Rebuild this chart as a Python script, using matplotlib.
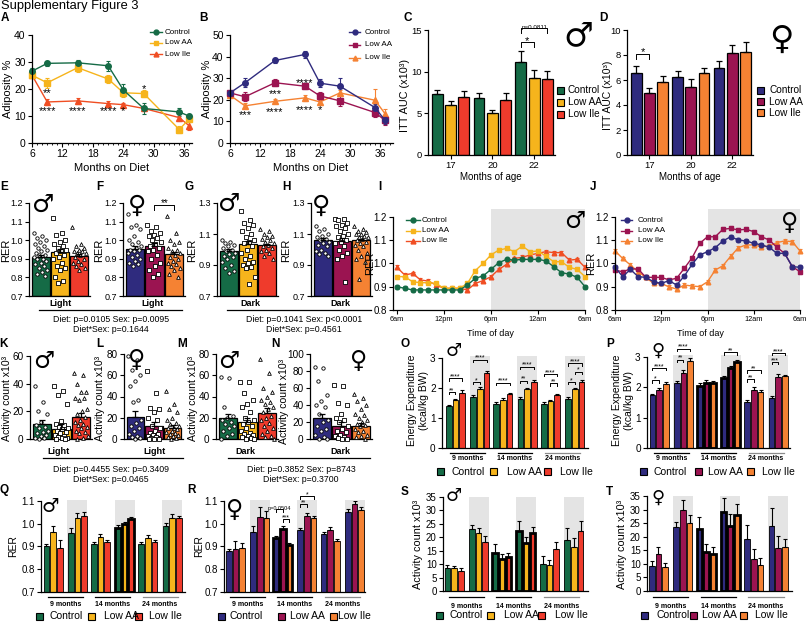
import numpy as np
import matplotlib.pyplot as plt
import matplotlib.transforms as mtransforms
from matplotlib.lines import Line2D
from matplotlib.patches import Rectangle
from matplotlib.ticker import MultipleLocator

plt.rcParams['font.family'] = ['Liberation Sans', 'DejaVu Sans']
plt.rcParams['axes.linewidth'] = 0.9

W, H = 807, 623
fig = plt.figure(figsize=(W / 100, H / 100), dpi=100)
# pixel coordinates, origin top-left
PX = mtransforms.Affine2D().scale(1 / W, -1 / H).translate(0, 1) + fig.transFigure

GROUPS = ['Control', 'Low AA', 'Low Ile']
M_COLS = ['#156b46', '#f6b41c', '#ef3b2c']
M_LINE = ['#156b46', '#f6b41c', '#f04e23']
F_COLS = ['#2f2b7e', '#9b1451', '#f58233']
MARKS = ['o', 's', '^']
SHADE = '#e4e4e4'

# ---------------- data ----------------
# A/B adiposity
months_diet = [6, 9, 15, 21, 24, 28, 35, 37]
A_ctrl = [26.6, 29.5, 29.7, 28.6, 19.6, 12.8, 11.5, 9.9]
A_ctrl_e = [1.0, 1.0, 1.2, 1.8, 2.2, 2.0, 1.5, 0.8]
A_aa = [25.1, 22.3, 27.9, 23.7, 18.6, 18.3, 5.0, 9.0]
A_aa_e = [1.0, 1.8, 1.5, 1.6, 1.5, 1.2, 1.2, 1.0]
A_ile = [25.1, 15.2, 15.6, 14.6, 14.2, 12.8, 9.4, 6.3]
A_ile_e = [0.8, 1.0, 1.2, 1.0, 0.8, 0.8, 1.2, 1.5]

B_ctrl = [23.2, 27.9, 38.2, 41.0, 27.7, 26.3, 16.4, 10.5]
B_ctrl_e = [1.0, 2.0, 1.2, 1.5, 1.8, 4.0, 1.5, 1.5]
B_aa = [23.2, 21.4, 27.9, 26.3, 21.8, 19.5, 14.1, 10.5]
B_aa_e = [1.0, 2.0, 1.5, 1.5, 1.8, 2.5, 2.0, 2.0]
B_ile = [22.1, 17.2, 19.3, 20.9, 19.0, 23.2, 19.8, 13.6]
B_ile_e = [1.0, 1.2, 1.0, 1.5, 1.2, 1.5, 5.4, 2.0]

# C/D ITT AUC
itt_ages = ['17', '20', '22']
C_ctrl = [7.3, 6.9, 11.2]
C_ctrl_e = [0.5, 0.5, 1.3]
C_aa = [5.95, 5.0, 9.2]
C_aa_e = [0.5, 0.4, 1.0]
C_ile = [7.0, 6.6, 9.1]
C_ile_e = [0.7, 0.9, 1.0]
D_ctrl = [6.59, 6.27, 6.93]
D_ctrl_e = [0.5, 0.45, 0.6]
D_aa = [4.93, 5.47, 8.13]
D_aa_e = [0.4, 0.65, 0.67]
D_ile = [5.87, 6.53, 8.21]
D_ile_e = [0.45, 0.4, 0.85]

# E-H RER per mouse
E_means = [0.907, 0.937, 0.914]
E_errs = [0.012, 0.017, 0.01]
E_ctrl_pts = [1.04, 1.02, 1.01, 1.0, 0.99, 0.98, 0.97, 0.96, 0.95, 0.94, 0.93, 0.92, 0.92, 0.91,
              0.9, 0.9, 0.89, 0.88, 0.87, 0.86, 0.85, 0.84, 0.83, 0.82, 0.81]
E_aa_pts = [1.12, 1.04, 1.03, 1.0, 0.99, 0.98, 0.97, 0.96, 0.95, 0.94, 0.93, 0.92, 0.91, 0.9,
            0.88, 0.86, 0.85, 0.84, 0.8, 0.78, 0.77]
E_ile_pts = [1.07, 0.98, 0.97, 0.96, 0.95, 0.94, 0.94, 0.93, 0.93, 0.92, 0.91, 0.9, 0.89, 0.88,
             0.87, 0.86, 0.85, 0.84]
F_means = [0.955, 0.968, 0.925]
F_errs = [0.015, 0.015, 0.012]
F_ctrl_pts = [1.14, 1.08, 1.07, 1.06, 1.02, 1.0, 0.99, 0.98, 0.97, 0.96, 0.95, 0.95, 0.94, 0.93,
              0.92, 0.91, 0.9, 0.89, 0.88, 0.87, 0.86]
F_aa_pts = [1.08, 1.07, 1.05, 1.04, 1.03, 1.02, 1.01, 1.0, 0.99, 0.98, 0.97, 0.96, 0.95, 0.94,
            0.92, 0.9, 0.88, 0.86, 0.84, 0.82, 0.8]
F_ile_pts = [1.13, 1.04, 1.0, 0.99, 0.98, 0.96, 0.95, 0.94, 0.93, 0.92, 0.91, 0.9, 0.89, 0.88,
             0.87, 0.86, 0.85, 0.84, 0.82, 0.8]
G_means = [0.989, 1.034, 1.028]
G_errs = [0.012, 0.02, 0.008]
G_ctrl_pts = [1.06, 1.05, 1.04, 1.03, 1.02, 1.01, 1.0, 0.99, 0.98, 0.97, 0.96, 0.95, 0.94, 0.92,
              0.9, 0.88, 0.86, 0.85]
G_aa_pts = [1.25, 1.19, 1.17, 1.16, 1.14, 1.12, 1.1, 1.08, 1.06, 1.05, 1.04, 1.02, 1.0, 0.98,
            0.96, 0.94, 0.92, 0.91, 0.9, 0.89, 0.88, 0.82, 0.78]
G_ile_pts = [1.13, 1.12, 1.1, 1.09, 1.08, 1.07, 1.06, 1.05, 1.04, 1.03, 1.02, 1.01, 1.0, 0.99,
             0.98, 0.96, 0.94]
H_means = [1.06, 1.054, 1.06]
H_errs = [0.012, 0.02, 0.01]
H_ctrl_pts = [1.15, 1.13, 1.12, 1.1, 1.09, 1.08, 1.07, 1.06, 1.05, 1.04, 1.03, 1.02, 1.0, 0.99,
              0.98, 0.97, 0.96]
H_aa_pts = [1.2, 1.2, 1.19, 1.17, 1.16, 1.15, 1.14, 1.12, 1.1, 1.09, 1.08, 1.06, 1.05, 1.04,
            1.02, 1.0, 0.98, 0.96, 0.94, 0.79]
H_ile_pts = [1.15, 1.13, 1.12, 1.11, 1.1, 1.1, 1.09, 1.08, 1.08, 1.07, 1.06, 1.05, 1.04, 1.03,
             1.02, 1.0, 0.98, 0.96, 0.94, 0.92, 0.81]

# I/J RER time course (hours after 6am)
hours = list(range(25))
I_ctrl = [0.900, 0.893, 0.886, 0.886, 0.886, 0.886, 0.886, 0.886, 0.886, 0.907, 0.936, 0.946, 0.974,
          1.003, 1.017, 1.014, 1.017, 1.017, 1.017, 1.011, 0.986, 0.960, 0.954, 0.940, 0.900]
I_aa = [0.943, 0.943, 0.921, 0.917, 0.917, 0.914, 0.893, 0.893, 0.893, 0.914, 0.969, 1.000, 1.036,
        1.057, 1.064, 1.050, 1.074, 1.050, 1.053, 1.031, 1.007, 1.007, 0.983, 0.974, 0.943]
I_ile = [0.983, 0.950, 0.957, 0.929, 0.924, 0.907, 0.893, 0.893, 0.893, 0.886, 0.914, 0.926, 0.943,
         0.974, 0.996, 1.021, 1.026, 1.036, 1.043, 1.050, 1.046, 1.046, 1.014, 1.017, 0.983]
J_ctrl = [0.983, 0.943, 0.974, 0.943, 0.940, 0.921, 0.914, 0.926, 0.907, 0.946, 0.996, 1.036, 1.050,
          1.067, 1.096, 1.114, 1.100, 1.096, 1.086, 1.079, 1.069, 1.043, 1.043, 0.986, 0.983]
J_aa = [0.971, 0.964, 0.976, 0.976, 0.940, 0.940, 0.940, 0.929, 0.936, 0.979, 1.024, 1.086, 1.114,
        1.114, 1.146, 1.150, 1.143, 1.146, 1.136, 1.114, 1.100, 1.069, 1.043, 0.986, 0.964]
J_ile = [1.053, 1.021, 0.993, 0.964, 0.940, 0.914, 0.914, 0.899, 0.890, 0.907, 0.903, 0.900, 0.921,
         0.971, 0.990, 1.030, 1.067, 1.079, 1.079, 1.071, 1.074, 1.089, 1.096, 1.093, 1.053]
time_err = 0.008

# K-N activity per mouse
K_means = [10.5, 7.0, 16.0]
K_errs = [3.5, 4.0, 3.0]
K_ctrl_pts = [38.4, 27, 20, 18, 12, 10, 9, 8, 6, 5, 4, 3, 2, 1, 0.5, 0]
K_aa_pts = [38, 35, 32, 25, 13, 11, 10, 9, 8, 7, 6, 5, 4, 3, 2, 1.5, 1, 0.5, 0, 0]
K_ile_pts = [48, 46, 40, 34, 34, 30, 30, 28, 22, 20, 18, 16, 14, 12, 11, 10, 9, 8, 6, 5, 4, 2, 1, 0]
L_means = [20.5, 12.6, 10.5]
L_errs = [5.5, 3.5, 2.5]
L_ctrl_pts = [78, 74, 65, 60, 55, 50, 37, 35, 18, 15, 12, 10, 8, 5, 3, 2, 1, 0]
L_aa_pts = [64, 43, 29, 28, 25, 20, 18, 12, 10, 8, 6, 5, 4, 3, 2, 1, 0, 0, 0]
L_ile_pts = [45, 33, 28, 25, 20, 18, 15, 14, 12, 10, 10, 9, 8, 7, 6, 5, 4, 3, 2, 1, 0]
M_means = [19.5, 16.4, 24.9]
M_errs = [4.0, 3.0, 4.0]
M_ctrl_pts = [58, 57, 30, 22, 20, 18, 16, 14, 12, 10, 8, 5, 3, 0]
M_aa_pts = [54, 54, 43, 37, 33, 30, 25, 20, 18, 16, 14, 12, 10, 8, 6, 5, 4, 3, 2, 1, 0, 0]
M_ile_pts = [75, 62, 48, 44, 40, 37, 35, 33, 30, 28, 25, 22, 20, 18, 15, 12, 10, 8, 5, 3, 2, 0]
N_means = [25.0, 15.7, 15.7]
N_errs = [5.0, 4.0, 3.0]
N_ctrl_pts = [85, 84, 68, 52, 45, 40, 38, 30, 22, 20, 15, 12, 10, 5, 2, 0, 0]
N_aa_pts = [63, 62, 42, 40, 30, 25, 22, 20, 15, 12, 10, 8, 5, 3, 2, 1, 0, 0]
N_ile_pts = [53, 48, 45, 40, 35, 30, 28, 25, 22, 20, 18, 16, 15, 12, 10, 8, 5, 3, 2, 0]

# O-T: 9/14/24 months, light then dark
O_ctrl = [1.40, 1.71, 1.47, 1.62, 1.47, 1.62]
O_aa = [1.60, 1.95, 1.60, 1.95, 1.57, 1.95]
O_ile = [1.84, 2.48, 1.80, 2.20, 1.76, 2.20]
O_err = [[0.02, 0.05, 0.07, 0.08, 0.05, 0.08], [0.03, 0.07, 0.05, 0.05, 0.04, 0.05],
         [0.08, 0.08, 0.02, 0.05, 0.05, 0.05]]
P_ctrl = [1.75, 2.13, 2.06, 2.30, 1.53, 1.64]
P_aa = [1.92, 2.49, 2.16, 2.63, 1.92, 2.35]
P_ile = [2.10, 2.88, 2.16, 2.83, 1.86, 2.37]
P_err = [[0.05, 0.07, 0.07, 0.08, 0.05, 0.08], [0.05, 0.08, 0.07, 0.08, 0.08, 0.1],
         [0.08, 0.1, 0.05, 0.07, 0.05, 0.05]]
Q_ctrl = [0.901, 0.957, 0.909, 0.982, 0.909, 0.990]
Q_aa = [0.965, 1.026, 0.940, 0.997, 0.935, 1.024]
Q_ile = [0.891, 1.035, 0.918, 1.019, 0.918, 1.024]
Q_err = [[0.01, 0.025, 0.01, 0.01, 0.01, 0.015], [0.025, 0.02, 0.015, 0.01, 0.015, 0.02],
         [0.035, 0.015, 0.01, 0.01, 0.01, 0.012]]
R_ctrl = [0.880, 0.963, 0.935, 0.970, 0.953, 1.053]
R_aa = [0.890, 1.030, 0.975, 1.034, 0.970, 1.087]
R_ile = [0.893, 1.024, 0.906, 1.024, 0.924, 1.060]
R_err = [[0.01, 0.025, 0.01, 0.01, 0.01, 0.012], [0.035, 0.045, 0.015, 0.012, 0.015, 0.015],
         [0.02, 0.03, 0.01, 0.01, 0.01, 0.015]]
S_ctrl = [8.5, 23.0, 14.1, 22.2, 10.0, 19.0]
S_aa = [8.5, 21.5, 11.8, 17.8, 9.7, 16.3]
S_ile = [7.5, 18.1, 12.6, 21.5, 15.7, 22.2]
S_err = [[1.2, 1.5, 3.3, 3.8, 3.0, 4.4], [0.7, 1.8, 1.9, 2.2, 2.0, 3.4], [1.0, 2.2, 1.7, 2.2, 2.4, 3.8]]
T_ctrl = [9.3, 23.4, 22.8, 29.0, 19.3, 24.0]
T_aa = [13.8, 30.0, 14.3, 24.0, 11.8, 15.9]
T_ile = [8.8, 24.9, 13.8, 28.0, 9.7, 16.3]
T_err = [[1.7, 2.2, 4.4, 5.2, 5.0, 6.5], [2.5, 3.5, 3.1, 4.3, 3.7, 4.5], [1.5, 3.0, 2.5, 4.0, 2.5, 3.0]]
month_names = ['9 months', '14 months', '24 months']

# significance marks: (group, bar a, bar b, height, label)
O_sig = [(0, 0, 1, 1.87, '**'), (0, 0, 2, 2.32, '****'), (1, 0, 1, 2.2, '*'), (1, 0, 2, 2.94, '****'),
         (2, 0, 2, 2.17, '****'), (3, 0, 1, 2.24, '**'), (3, 0, 2, 2.7, '****'), (4, 0, 2, 2.46, '****'),
         (4, 1, 2, 2.15, '**'), (5, 0, 1, 2.2, '*'), (5, 1, 2, 2.54, '*'), (5, 0, 2, 2.81, '****')]
P_sig = [(0, 0, 1, 2.23, '*'), (0, 0, 2, 2.64, '****'), (1, 0, 1, 2.91, '**'), (1, 0, 2, 3.27, '****'),
         (3, 0, 2, 3.15, '**'), (4, 0, 1, 2.27, '**'), (4, 0, 2, 2.56, '**'), (5, 0, 1, 2.84, '***'),
         (5, 0, 2, 3.13, '****')]
R_sig = [(2, 0, 1, 1.063, 'p=0.0504'), (2, 1, 2, 1.02, '***'), (3, 0, 2, 1.12, '*'), (3, 0, 1, 1.085, '**')]


# ---------------- helpers ----------------
def make_ax(l, t, r, b, size=7):
    ax = fig.add_axes([l / W, 1 - b / H, (r - l) / W, (b - t) / H])
    ax.spines['top'].set_visible(False)
    ax.spines['right'].set_visible(False)
    ax.tick_params(direction='out', length=3, width=0.8, pad=1.5, labelsize=size)
    ax.patch.set_visible(False)
    return ax


def ftext(x, y, s, size=7, **kw):
    kw.setdefault('ha', 'center')
    kw.setdefault('va', 'center')
    return fig.text(x, y, s, fontsize=size, transform=PX, **kw)


def fline(xs, ys, **kw):
    kw.setdefault('color', 'k')
    kw.setdefault('lw', 0.9)
    fig.add_artist(Line2D(xs, ys, transform=PX, **kw))


def ylab(x, y, s, size=8):
    ftext(x, y, s, size, rotation=90)


def sex(x, y, s, size):
    ftext(x, y, s, size, fontweight='bold', family='DejaVu Sans')


def line_legend(x0, x1, xt, ys, cols, size=5.8):
    for y, c, m, lab in zip(ys, cols, MARKS, GROUPS):
        fline([x0, x1], [y, y], color=c, lw=1)
        fig.add_artist(Line2D([(x0 + x1) / 2], [y], transform=PX, marker=m, ms=3.5, color=c, ls='none'))
        ftext(xt, y, lab, size, ha='left')


def box_legend(xs_patch, xs_text, ys, cols, size=7):
    for xp, xt, y, c, lab in zip(xs_patch, xs_text, ys, cols, GROUPS):
        fig.add_artist(Rectangle((xp - 3.5, y - 3.5), 7, 7, transform=PX, fc=c, ec='k', lw=0.8))
        ftext(xt, y, lab, size, ha='left')


def star(ax, x, y, s, fs=8):
    tr = mtransforms.offset_copy(ax.transData, fig=fig, y=-0.33 * fs, units='points')
    ax.text(x, y, s, ha='center', va='center', fontsize=fs, transform=tr, clip_on=False)


def bracket(ax, x1, x2, y, s, leg, fs=5):
    ax.plot([x1, x1, x2, x2], [y - leg, y, y, y - leg], color='k', lw=0.7, clip_on=False)
    tr = mtransforms.offset_copy(ax.transData, fig=fig, y=-0.3 * fs, units='points')
    ax.text((x1 + x2) / 2, y, s, ha='center', va='bottom', fontsize=fs, transform=tr, clip_on=False)


def line_panel(ax, x, series, errs, cols, ms=4):
    for k in (2, 1, 0):
        ax.errorbar(x, series[k], yerr=errs[k], color=cols[k], marker=MARKS[k], ms=ms, lw=1,
                    elinewidth=0.8, capsize=1.6, capthick=0.8, clip_on=False)


def bar3(ax, means, errs, cols, ylim):
    for i in range(3):
        ax.bar(i, means[i] - ylim[0], 0.92, bottom=ylim[0], color=cols[i], ec='k', lw=0.9, zorder=1)
        ax.errorbar(i, means[i], yerr=[[0], [errs[i]]], fmt='none', ecolor='k', elinewidth=0.9,
                    capsize=2, capthick=0.9, zorder=4)


def dot_panel(ax, means, errs, pts, cols, ylim, yticks, sizes=(6, 10, 7)):
    bar3(ax, means, errs, cols, ylim)
    for i in range(3):
        n = len(pts[i])
        xs = i + ((np.arange(n) * 0.618) % 1 - 0.5) * 0.72
        ax.scatter(xs, pts[i], s=sizes[i], marker=MARKS[i], fc='white', ec='k', lw=0.6,
                   zorder=3, clip_on=False)
    ax.set_xlim(-0.6, 2.55)
    ax.set_ylim(*ylim)
    ax.set_yticks(yticks)
    ax.set_xticks([])


GX = np.array([0, 3.65, 7.1, 10.7, 14.2, 17.85])


def group_panel(ax, series, errs, cols, ylim, yticks, black=(), shade_top=None, xlim=(-1.9, 19.7)):
    top = ylim[1] if shade_top is None else shade_top
    for g in (1, 3, 5):
        ax.add_patch(Rectangle((GX[g] - 1.5, ylim[0]), 3.0, top - ylim[0], fc=SHADE, ec='none',
                               zorder=0, clip_on=False))
    for k in range(3):
        for g in range(6):
            x = GX[g] + (k - 1)
            v = series[k][g]
            lw = 2.0 if g in black else 0.6
            ax.bar(x, v - ylim[0], 0.85, bottom=ylim[0], color=cols[k], ec='k', lw=lw, zorder=2)
            ax.errorbar(x, v, yerr=[[0], [errs[k][g]]], fmt='none', ecolor='k', elinewidth=0.8,
                        capsize=1.5, capthick=0.8, zorder=3)
    ax.set_xlim(*xlim)
    ax.set_ylim(*ylim)
    ax.set_yticks(yticks)
    ax.set_xticks([])


def month_labels(ax, y_line, y_text, fs=5, line_cols=('k', 'k', '0.55')):
    tr = mtransforms.blended_transform_factory(ax.transData, PX)
    for j, lab in enumerate(month_names):
        a, b = GX[2 * j], GX[2 * j + 1]
        ax.plot([a - 0.8, b + 0.8], [y_line, y_line], color=line_cols[j], lw=0.9, transform=tr,
                clip_on=False)
        ax.text((a + b) / 2, y_text, lab, ha='center', va='center', fontsize=fs, transform=tr,
                fontweight='bold')


def group_sigs(ax, sigs, leg, fs=5):
    for g, a, b, y, s in sigs:
        bracket(ax, GX[g] + a - 1, GX[g] + b - 1, y, s, leg, fs=4 if s.startswith('p') else fs)


# ---------------- title and panel letters ----------------
ftext(1, 0, 'Supplementary Figure 3', 9.3, ha='left', va='top')
letters = [('A', 5, 18), ('B', 203, 18), ('C', 408, 18), ('D', 603, 18),
           ('E', 4, 187), ('F', 100, 187), ('G', 189, 187), ('H', 286, 187), ('I', 380, 187), ('J', 593, 187),
           ('K', 4, 344), ('L', 100, 344), ('M', 182, 344), ('N', 275, 344), ('O', 405, 344), ('P', 610, 344),
           ('Q', 4, 490), ('R', 191, 490), ('S', 405, 492), ('T', 609, 492)]
for s, x, y in letters:
    ftext(x, y, s, 8.5, fontweight='bold')

# ---------------- A ----------------
axA = make_ax(32, 35, 192, 143, size=7.5)
line_panel(axA, months_diet, [A_ctrl, A_aa, A_ile], [A_ctrl_e, A_aa_e, A_ile_e], M_LINE)
axA.set_xlim(6, 37.5)
axA.set_ylim(0, 40)
axA.set_xticks(range(6, 37, 6))
axA.set_yticks(range(0, 41, 10))
axA.xaxis.set_minor_locator(MultipleLocator(1))
axA.tick_params(which='minor', length=1.5, width=0.6)
for s, x, y in [('**', 9, 20.0), ('****', 9, 13.0), ('****', 15, 13.0), ('****', 21, 13.0),
                ('*', 24, 13.0), ('*', 28, 21.3)]:
    star(axA, x, y, s)
ylab(8, 89, 'Adiposity %', 8)
ftext(112, 168, 'Months on Diet', 8)
line_legend(150, 162, 165, [32, 43, 54], M_LINE)

# ---------------- B ----------------
axB = make_ax(230, 35, 393, 143, size=7.5)
line_panel(axB, months_diet, [B_ctrl, B_aa, B_ile], [B_ctrl_e, B_aa_e, B_ile_e], F_COLS)
axB.set_xlim(6, 38.6)
axB.set_ylim(0, 50)
axB.set_xticks(range(6, 37, 6))
axB.set_yticks(range(0, 51, 10))
axB.xaxis.set_minor_locator(MultipleLocator(1))
axB.tick_params(which='minor', length=1.5, width=0.6)
for s, x, y in [('***', 9, 14.5), ('***', 15, 24.2), ('****', 15, 16.2), ('****', 21, 29.6),
                ('****', 21, 17.1), ('*', 24, 16.8)]:
    star(axB, x, y, s)
ylab(207, 89, 'Adiposity %', 8)
ftext(311, 168, 'Months on Diet', 8)
line_legend(349, 360, 365, [32, 45, 57.5], F_COLS)


# ---------------- C / D ----------------
def itt_panel(ax, series, errs, cols, ymax, yticks):
    for k in range(3):
        x = np.arange(3) + (k - 1) * 0.32
        ax.bar(x, series[k], 0.26, color=cols[k], ec='k', lw=0.9)
        ax.errorbar(x, series[k], yerr=[np.zeros(3), errs[k]], fmt='none', ecolor='k',
                    elinewidth=0.9, capsize=2, capthick=0.9)
    ax.set_xlim(-0.54, 2.5)
    ax.set_ylim(0, ymax)
    ax.set_yticks(yticks)
    ax.set_xticks(range(3))
    ax.set_xticklabels(itt_ages)


axC = make_ax(428, 30, 555, 155, size=6.8)
itt_panel(axC, [C_ctrl, C_aa, C_ile], [C_ctrl_e, C_aa_e, C_ile_e], M_COLS, 15, [0, 5, 10, 15])
bracket(axC, 2 - 0.32, 2.0, 13.5, '*', 0.6, fs=8)
bracket(axC, 2 - 0.32, 2.32, 15.2, 'p=0.0811', 0.6, fs=4.5)
ylab(405, 95, 'ITT AUC (x10³)', 7.8)
ftext(491, 177, 'Months of age', 7)
box_legend([560, 560, 560], [568, 568, 568], [90, 102, 114], M_COLS, 7.2)
sex(578, 36, '♂', 24)

axD = make_ax(627, 30, 753, 155, size=6.8)
itt_panel(axD, [D_ctrl, D_aa, D_ile], [D_ctrl_e, D_aa_e, D_ile_e], F_COLS, 10, [0, 2, 4, 6, 8, 10])
bracket(axD, -0.32, 0.0, 8.1, '*', 0.45, fs=8)
ylab(608, 95, 'ITT AUC (x10³)', 7.5)
ftext(690, 177, 'Months of age', 7)
box_legend([760, 760, 760], [769, 769, 769], [90, 101.7, 112.7], F_COLS, 7.2)
sex(781, 39, '♀', 24)

# ---------------- E-H ----------------
axE = make_ax(29, 203, 90, 296, size=6.5)
dot_panel(axE, E_means, E_errs, [E_ctrl_pts, E_aa_pts, E_ile_pts], M_COLS, (0.7, 1.2),
          [0.7, 0.8, 0.9, 1.0, 1.1, 1.2])
axF = make_ax(123, 203, 185, 296, size=6.5)
dot_panel(axF, F_means, F_errs, [F_ctrl_pts, F_aa_pts, F_ile_pts], F_COLS, (0.7, 1.2),
          [0.7, 0.8, 0.9, 1.0, 1.1, 1.2])
bracket(axF, 1, 2, 1.19, '**', 0.03, fs=7)
axG = make_ax(217, 203, 278, 296, size=6.5)
dot_panel(axG, G_means, G_errs, [G_ctrl_pts, G_aa_pts, G_ile_pts], M_COLS, (0.7, 1.3),
          [0.7, 0.9, 1.1, 1.3])
axH = make_ax(311, 203, 372, 296, size=6.5)
dot_panel(axH, H_means, H_errs, [H_ctrl_pts, H_aa_pts, H_ile_pts], F_COLS, (0.7, 1.3),
          [0.7, 0.9, 1.1, 1.3])
for x in (6, 99, 192, 286):
    ylab(x, 250, 'RER', 8)
for s, x, y in [('♂', 43, 205), ('♀', 137, 206), ('♂', 229, 204), ('♀', 321, 206)]:
    sex(x, y, s, 18)
ftext(60, 304, 'Light', 6.5, fontweight='bold')
ftext(153, 304, 'Light', 6.5, fontweight='bold')
ftext(250, 304, 'Dark', 6.5, fontweight='bold')
ftext(340, 304, 'Dark', 6.5, fontweight='bold')
fline([39, 182], [309.5, 309.5])
fline([227, 371], [309.5, 309.5])
ftext(111, 319, 'Diet: p=0.0105 Sex: p=0.0095', 6.3)
ftext(111, 329, 'Diet*Sex: p=0.1644', 6.3)
ftext(304, 319, 'Diet: p=0.1041 Sex: p<0.0001', 6.3)
ftext(304, 329, 'Diet*Sex: p=0.4561', 6.3)


# ---------------- I / J ----------------
def time_panel(ax, series, cols, x0):
    ax.axvspan(12, 24, ymin=0, ymax=1.08, color=SHADE, lw=0, zorder=0, clip_on=False)
    errs = [[time_err] * 25] * 3
    line_panel(ax, hours, series, errs, cols, ms=3.3)
    ax.set_xlim(x0, 24)
    ax.set_ylim(0.8, 1.2)
    ax.set_yticks([0.8, 0.9, 1.0, 1.1, 1.2])
    ax.set_xticks([0, 6, 12, 18, 24])
    ax.set_xticklabels(['6am', '12pm', '6pm', '12am', '6am'], fontsize=5.3)


axI = make_ax(393, 216.7, 585, 310, size=7)
time_panel(axI, [I_ctrl, I_aa, I_ile], M_LINE, -0.5)
axJ = make_ax(615, 216.7, 800, 310, size=7)
time_panel(axJ, [J_ctrl, J_aa, J_ile], F_COLS, 0)
ylab(370, 263, 'RER', 8)
ylab(591, 263, 'RER', 8)
ftext(490, 334, 'Time of day', 6.5)
ftext(700, 334, 'Time of day', 6.5)
line_legend(406, 420, 422, [220, 230.7, 241], M_LINE)
line_legend(621, 632, 638, [220, 230.7, 241], F_COLS)
sex(575, 221, '♂', 17)
sex(790, 223, '♀', 17)

# ---------------- K-N ----------------
axK = make_ax(30, 356, 92, 439, size=7.2)
dot_panel(axK, K_means, K_errs, [K_ctrl_pts, K_aa_pts, K_ile_pts], M_COLS, (0, 60), [0, 20, 40, 60])
axL = make_ax(124, 354, 183, 439, size=7.2)
dot_panel(axL, L_means, L_errs, [L_ctrl_pts, L_aa_pts, L_ile_pts], F_COLS, (0, 80), [0, 20, 40, 60, 80])
axM = make_ax(216, 354, 278, 439, size=7.2)
dot_panel(axM, M_means, M_errs, [M_ctrl_pts, M_aa_pts, M_ile_pts], M_COLS, (0, 80), [0, 20, 40, 60, 80])
axN = make_ax(310, 354, 372, 439, size=7.2)
dot_panel(axN, N_means, N_errs, [N_ctrl_pts, N_aa_pts, N_ile_pts], F_COLS, (0, 100),
          [0, 20, 40, 60, 80, 100])
for x, y in ((7, 398), (100, 398), (193, 398), (284, 401)):
    ylab(x, y, 'Activity count x10³', 7.6)
for s, x, y in [('♂', 44, 361), ('♀', 137, 360), ('♂', 229, 361), ('♀', 359, 361)]:
    sex(x, y, s, 17)
ftext(58, 451, 'Light', 6.5, fontweight='bold')
ftext(155, 451, 'Light', 6.5, fontweight='bold')
ftext(245, 451, 'Dark', 6.5, fontweight='bold')
ftext(340, 451, 'Dark', 6.5, fontweight='bold')
fline([43, 183], [458, 458])
fline([228, 370], [458, 458])
ftext(111, 469, 'Diet: p=0.4455 Sex: p=0.3409', 6.3)
ftext(111, 479, 'Diet*Sex: p=0.0465', 6.3)
ftext(301, 469, 'Diet: p=0.3852 Sex: p=8743', 6.3)
ftext(301, 479, 'Diet*Sex: p=0.3700', 6.3)

# ---------------- O / P ----------------
axO = make_ax(442, 357.7, 588, 448.3, size=7.2)
group_panel(axO, [O_ctrl, O_aa, O_ile], O_err, M_COLS, (0, 3), [0, 1, 2, 3], shade_top=3.05,
            xlim=(-2.0, 19.8))
group_sigs(axO, O_sig, 0.08)
month_labels(axO, 453, 458.5)
ylab(418, 400, 'Energy Expenditure\n(kcal/kg BW)', 7.5)
box_legend([440, 493, 547], [451.7, 506.7, 560], [471.7] * 3, M_COLS, 7.5)
sex(454, 351, '♂', 13)

axP = make_ax(647, 357, 790, 448.3, size=7.2)
group_panel(axP, [P_ctrl, P_aa, P_ile], P_err, F_COLS, (0, 3), [0, 1, 2, 3], black=(2, 3),
            shade_top=3.05, xlim=(-1.8, 19.6))
group_sigs(axP, P_sig, 0.08)
month_labels(axP, 453, 458.5)
ylab(623, 400, 'Energy Expenditure\n(kcal/kg BW)', 7.5)
box_legend([643.7, 698.3, 750], [653.3, 708.3, 761.7], [471.7] * 3, F_COLS, 7.5)
sex(658, 351, '♀', 13)

# ---------------- Q / R ----------------
rer_ticks = [0.7, 0.8, 0.9, 1.0, 1.1]
axQ = make_ax(41, 501, 185, 591.7, size=7)
group_panel(axQ, [Q_ctrl, Q_aa, Q_ile], Q_err, M_COLS, (0.7, 1.1), rer_ticks, black=(3,),
            shade_top=1.105, xlim=(-1.8, 19.75))
month_labels(axQ, 597.3, 605)
ylab(13, 546, 'RER', 7.5)
box_legend([39.3, 91.7, 138.3], [50, 104.3, 149.3], [616] * 3, M_COLS, 7.5)
sex(50, 507, '♂', 14)

axR = make_ax(224, 501, 365, 591.7, size=7)
group_panel(axR, [R_ctrl, R_aa, R_ile], R_err, F_COLS, (0.7, 1.1), rer_ticks, black=(2,),
            shade_top=1.105, xlim=(-1.7, 19.4))
group_sigs(axR, R_sig, 0.012)
month_labels(axR, 597.3, 605)
ylab(199, 546, 'RER', 7.5)
box_legend([221.7, 281.7, 333.3], [230, 290, 338.3], [616] * 3, F_COLS, 7.5)
sex(235, 510, '♀', 17)

# ---------------- S / T ----------------
act_ticks = list(range(0, 36, 5))
axS = make_ax(443, 497, 588, 591, size=7)
group_panel(axS, [S_ctrl, S_aa, S_ile], S_err, M_COLS, (0, 35), act_ticks, black=(2, 3),
            xlim=(-1.65, 19.95))
month_labels(axS, 596.7, 606)
ylab(418, 544, 'Activity count x10³', 7.8)
box_legend([439.3, 490.7, 541.7], [450, 504.3, 555], [615] * 3, M_COLS, 7.5)
sex(454, 496, '♂', 13)

axT = make_ax(647, 496, 792, 591, size=7)
group_panel(axT, [T_ctrl, T_aa, T_ile], T_err, F_COLS, (0, 35), act_ticks, black=(2, 3),
            xlim=(-1.7, 19.9))
month_labels(axT, 596.7, 606)
ylab(622, 544, 'Activity count x10³', 7.8)
box_legend([644, 693.3, 743.3], [656.7, 701.7, 755], [615] * 3, F_COLS, 7.5)
sex(658, 498, '♀', 13)

fig.savefig('out.png', dpi=100)
